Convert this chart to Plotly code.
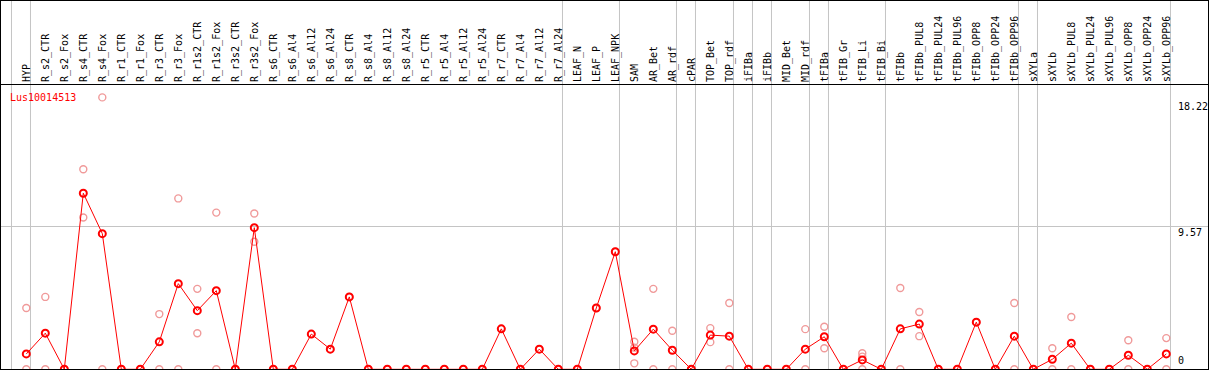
import plotly.graph_objects as go

categories = ["HYP", "R_s2_CTR", "R_s2_Fox", "R_s4_CTR", "R_s4_Fox", "R_r1_CTR", "R_r1_Fox",
              "R_r3_CTR", "R_r3_Fox", "R_r1s2_CTR", "R_r1s2_Fox", "R_r3s2_CTR", "R_r3s2_Fox",
              "R_s6_CTR", "R_s6_Al4", "R_s6_Al12", "R_s6_Al24", "R_s8_CTR", "R_s8_Al4", "R_s8_Al12",
              "R_s8_Al24", "R_r5_CTR", "R_r5_Al4", "R_r5_Al12", "R_r5_Al24", "R_r7_CTR", "R_r7_Al4",
              "R_r7_Al12", "R_r7_Al24", "LEAF_N", "LEAF_P", "LEAF_NPK", "SAM", "AR_Bet", "AR_rdf",
              "cPAR", "TOP_Bet", "TOP_rdf", "iFIBa", "iFIBb", "MID_Bet", "MID_rdf", "tFIBa",
              "tFIB_Gr", "tFIB_Li", "tFIB_Bi", "tFIBb", "tFIBb_PUL8", "tFIBb_PUL24", "tFIBb_PUL96",
              "tFIBb_OPP8", "tFIBb_OPP24", "tFIBb_OPP96", "sXYLa", "sXYLb", "sXYLb_PUL8",
              "sXYLb_PUL24", "sXYLb_PUL96", "sXYLb_OPP8", "sXYLb_OPP24", "sXYLb_OPP96"]

mean_values = [1.03, 2.42, 0, 11.80, 9.09, 0, 0, 1.84, 5.74, 3.93, 5.27, 0, 9.49, 0, 0,
               2.36, 1.35, 4.85, 0, 0, 0, 0, 0, 0, 0, 2.71, 0, 1.35, 0, 0, 4.11, 7.88,
               1.23, 2.69, 1.28, 0, 2.29, 2.22, 0, 0, 0, 1.35, 2.18, 0, 0.63, 0, 2.71,
               3.03, 0, 0, 3.16, 0, 2.22, 0, 0.67, 1.75, 0, 0, 0.94, 0, 1.03]

rep_a = [4.11, 4.85, 0, 13.40, 18.22, 0, 0, 3.70, 11.45, 5.39, 10.50, 0, 10.44, 0, 0,
         2.36, 1.35, 4.85, 0, 0, 0, 0, 0, 0, 0, 2.71, 0, 1.35, 0, 0, 4.11, 7.88,
         1.85, 5.39, 2.58, 0, 2.76, 4.44, 0, 0, 0, 2.69, 2.85, 0, 1.08, 0, 5.45,
         3.84, 0, 0, 3.16, 0, 4.44, 0, 1.41, 3.50, 0, 0, 1.95, 0, 2.09]
rep_b = [0, 0, None, 10.17, 0, None, None, 0, 0, 2.42, 0, None, 8.55, None, None,
         None, None, None, None, None, None, None, None, None, None, None, None, None, None, None, None, None,
         1.45, 0, 0, None, 1.82, 0, None, None, None, 0, 1.41, None, 0.85, None, 0,
         2.22, None, None, None, None, 0, None, 0, 0, None, None, 0, None, 0]
rep_c = [None] * 32 + [0.40] + [None] * 11 + [0] + [None] * 16

group_ends = [-1, 0, 28, 31, 34, 35, 37, 38, 39, 41, 42, 45, 52, 53, 60]
scale_labels = [18.22, 9.57, 0]
gene = "Lus10014513"

FONT = "DejaVu Sans Mono"
RED = "#ff0000"
PALE = "#f09a9a"

idx = list(range(len(categories)))

fig = go.Figure()
rx, ry = [], []
for rep in (rep_a, rep_b, rep_c):
    for i, v in zip(idx, rep):
        if v is not None:
            rx.append(i)
            ry.append(v)
fig.add_trace(go.Scatter(x=rx, y=ry, mode="markers",
                         marker=dict(symbol="circle-open", size=7, color=PALE, line=dict(width=1.4, color=PALE)),
                         showlegend=False, hoverinfo="skip"))
fig.add_trace(go.Scatter(x=idx, y=mean_values, mode="lines+markers",
                         line=dict(color=RED, width=1),
                         marker=dict(symbol="circle-open", size=7, color=RED, line=dict(width=2, color=RED)),
                         showlegend=False))

top_ext = 1 + 85 / 285
shapes = []
for g in group_ends:
    shapes.append(dict(type="line", xref="x", yref="paper", x0=g + 0.22, x1=g + 0.22, y0=0, y1=top_ext,
                       line=dict(color="#c4c4c4", width=1), layer="below"))
shapes.append(dict(type="rect", xref="paper", yref="paper", x0=0, x1=1, y0=0, y1=top_ext,
                   line=dict(color="black", width=2)))

annotations = [dict(text=gene, xref="paper", yref="paper", x=8 / 1209, y=(370 - 97) / 285,
                    xanchor="left", yanchor="middle", showarrow=False,
                    font=dict(family=FONT, size=10, color=RED))]
shifts = {18.22: -2, 9.57: 1, 0: 1}
for v in scale_labels:
    annotations.append(dict(text=f"{v:g}", xref="paper", yref="y", x=1176 / 1209, y=v,
                            xanchor="left", yanchor="bottom" if v == 0 else "top",
                            yshift=shifts[v], showarrow=False,
                            font=dict(family=FONT, size=10, color="black")))

fig.update_layout(
    width=1209, height=370,
    margin=dict(l=0, r=0, t=85, b=0, autoexpand=False),
    paper_bgcolor="white", plot_bgcolor="white",
    shapes=shapes, annotations=annotations,
    xaxis=dict(range=[-26.3 / 19, (1209 - 26.3) / 19], side="top", automargin=False,
               tickmode="array", tickvals=idx, ticktext=categories, tickangle=-90,
               tickfont=dict(family=FONT, size=10, color="black"),
               showgrid=False, zeroline=False, showline=True, linecolor="black", linewidth=1,
               ticks="", fixedrange=True),
    yaxis=dict(range=[-0.047, 19.05], tickmode="array", tickvals=[9.57], showticklabels=False,
               showgrid=True, gridcolor="#c4c4c4", gridwidth=1, zeroline=False, showline=False,
               ticks="", fixedrange=True, automargin=False),
)

fig.write_html("out.html", config={"displayModeBar": False},
               post_script="document.body.style.margin='0';document.body.style.overflow='hidden';")
